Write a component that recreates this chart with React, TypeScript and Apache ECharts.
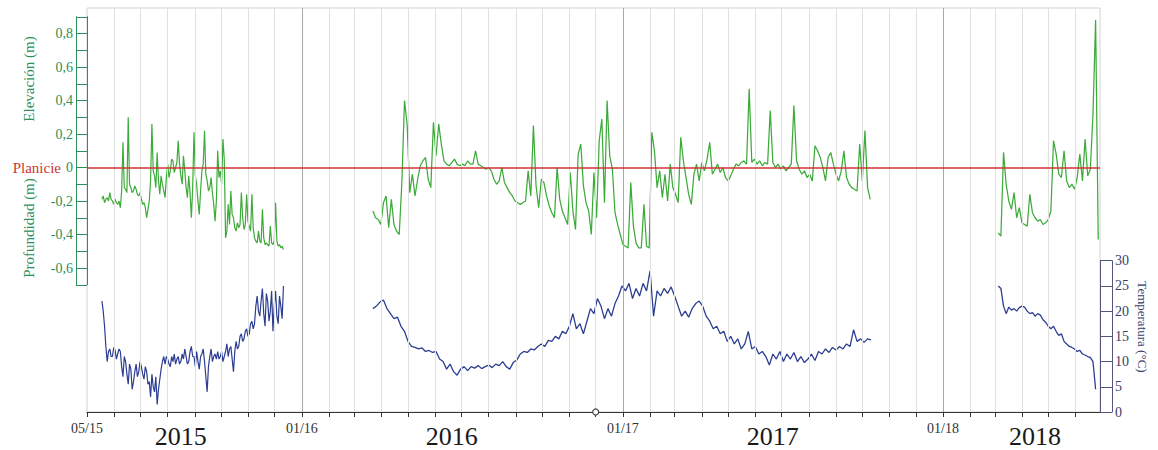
import React, { useEffect, useRef } from 'react';
import * as echarts from 'echarts';

const SERIF = '"Liberation Serif", "DejaVu Serif", serif';
const X_MIN = '2015-05-01';
const X_MAX = '2018-06-29';
const yearLines = ['2016-01-01', '2017-01-01', '2018-01-01'];
const xTickLabelDates = ['2015-05-01', '2016-01-01', '2017-01-01', '2018-01-01'];
const xTickLabels = ['05/15', '01/16', '01/17', '01/18'];
const markerDate = '2016-12-01';
const yearLabels = ['2015', '2016', '2017', '2018'];
const yearLabelDates = ['2015-08-16', '2016-06-20', '2017-06-21', '2018-04-16'];

// Elevation (m)
const elev2015Start = '2015-05-18'; // every 1.5 days
const elev2015 = [
  -0.19, -0.17, -0.21, -0.19, -0.18, -0.2, -0.15, -0.19, -0.2, -0.22,
  -0.19, -0.21, -0.22, -0.2, -0.24, -0.14, 0.15, -0.12, -0.13, -0.15,
  0.3, -0.1, -0.12, -0.15, -0.14, -0.11, -0.13, -0.16, -0.17, -0.15,
  -0.19, -0.22, -0.21, -0.24, -0.3, -0.25, -0.2, -0.08, 0.26, -0.02,
  -0.05, -0.12, 0.09, -0.08, -0.16, -0.05, -0.1, -0.14, -0.18, -0.06,
  0.02, -0.06, -0.02, 0.05, 0.04, -0.03, 0.0, 0.03, 0.16, 0.02,
  -0.05, -0.1, 0.07, -0.02, -0.12, -0.18, -0.05, -0.15, -0.3, -0.12,
  0.21, -0.05, -0.1, -0.2, -0.28, -0.14, -0.02, 0.02, 0.22, -0.04,
  -0.08, -0.14, -0.12, -0.06, -0.15, -0.22, -0.32, -0.2, 0.1, -0.06,
  -0.02, -0.1, 0.17, 0.05, -0.42, -0.38, -0.22, -0.34, -0.14, -0.28,
  -0.3, -0.36, -0.38, -0.33, -0.36, -0.34, -0.15, -0.3, -0.37, -0.34,
  -0.16, -0.32, -0.35, -0.38, -0.16, -0.36, -0.42, -0.44, -0.45, -0.38,
  -0.44, -0.45, -0.25, -0.42, -0.46, -0.45, -0.46, -0.47, -0.35, -0.45,
  -0.46, -0.44, -0.21, -0.44, -0.47, -0.46, -0.48, -0.47, -0.49,
];
const elev2016Start = '2016-03-22'; // every 3 days
const elev2016 = [
  -0.26, -0.3, -0.31, -0.34, -0.21, -0.17, -0.36, -0.19, -0.34, -0.38,
  -0.4, -0.09, 0.4, 0.26, -0.15, -0.04, -0.17, -0.07, 0.01, 0.04,
  0.06, -0.07, -0.12, 0.27, 0.07, 0.26, 0.14, 0.04, 0.02, 0.01,
  0.03, 0.05, 0.02, 0.01, 0.02, 0.01, 0.04, 0.02, 0.02, 0.1,
  0.02, 0.01, 0.0, -0.01, 0.0, -0.02, -0.07, -0.1, -0.08, 0.0,
  -0.09, -0.12, -0.15, -0.17, -0.2, -0.21, -0.22, -0.21, -0.2, -0.02,
  -0.17, 0.25, -0.11, -0.24, -0.07, -0.09, -0.17, -0.23, -0.27, -0.3,
  0.0, -0.19, -0.26, -0.3, -0.34, -0.03, -0.26, -0.37, 0.08, 0.14,
  -0.11, -0.21, -0.26, -0.4, -0.03, -0.3, 0.16, 0.29, -0.21, 0.4,
  0.07, -0.01, -0.27, -0.34, -0.4, -0.46, -0.47, -0.48, -0.09, -0.35,
  -0.45, -0.48, -0.48, -0.22, -0.47, -0.48, 0.21, 0.1, -0.12, -0.02,
  -0.18, -0.04, -0.2, 0.02, -0.12, -0.16, -0.21, 0.18, 0.04, -0.06,
  -0.16, -0.22, -0.04, 0.02, -0.08, 0.03, -0.02, 0.05, 0.15, -0.04,
  -0.01, 0.02, -0.03, 0.0, -0.06, -0.08, -0.05, -0.01, 0.02, 0.01,
  0.03, 0.04, 0.02, 0.47, 0.03, 0.05, 0.02, 0.04, 0.01, 0.03,
  0.02, 0.34, 0.03, 0.0, 0.02, -0.01, 0.01, -0.02, 0.0, 0.02,
  0.37, 0.04, -0.01, -0.04, -0.02, -0.06, -0.04, -0.08, 0.13, 0.1,
  0.06, 0.0, -0.08, 0.06, 0.09, 0.02, -0.04, -0.08, -0.02, 0.1,
  -0.06, -0.1, -0.12, -0.13, -0.14, 0.14, -0.08, 0.22, -0.12, -0.19,
];
const elev2018Start = '2018-03-05'; // every 3 days
const elev2018 = [
  -0.39, -0.41, 0.09, -0.1, -0.2, -0.25, -0.15, -0.3, -0.24, -0.33,
  -0.34, -0.35, -0.16, -0.27, -0.3, -0.32, -0.31, -0.34, -0.33, -0.31,
  -0.26, 0.16, 0.08, -0.04, -0.06, 0.1, -0.08, -0.12, -0.1, -0.13,
  -0.06, 0.08, -0.08, 0.17, -0.05, -0.01, 0.32, 0.88, -0.43,
];

// Temperature (°C)
const temp2015Start = '2015-05-18'; // every 1.5 days
const temp2015 = [
  22.0, 20.0, 17.0, 13.0, 10.0, 12.0, 12.5, 11.0, 11.0, 12.8,
  12.3, 10.5, 11.5, 12.5, 12.0, 9.0, 7.0, 11.0, 10.0, 7.5,
  5.5, 9.5, 8.5, 4.5, 6.0, 8.0, 9.5, 7.0, 8.0, 10.0,
  9.0, 7.5, 6.5, 9.0, 8.0, 5.5, 6.0, 3.0, 7.5, 5.0,
  4.0, 7.0, 1.5, 4.5, 6.5, 8.5, 10.0, 11.0, 9.5, 11.0,
  10.5, 9.5, 9.0, 11.0, 10.0, 11.5, 9.5, 10.5, 11.0, 9.5,
  10.0, 11.5, 10.5, 12.5, 11.0, 9.5, 10.0, 12.0, 13.0, 11.0,
  11.0, 9.0, 12.0, 10.0, 8.5, 11.0, 11.5, 12.5, 10.0, 7.0,
  4.0, 9.0, 11.0, 12.5, 10.0, 11.0, 11.5, 10.5, 12.0, 10.5,
  11.0, 12.0, 10.0, 11.0, 12.0, 13.5, 11.0, 12.5, 13.0, 10.5,
  8.0, 12.0, 14.0, 12.5, 13.0, 15.0, 15.5, 14.0, 14.5, 16.0,
  16.5, 15.0, 15.5, 17.5, 18.0, 16.5, 17.5, 21.0, 23.0, 20.0,
  19.0, 22.0, 24.5, 19.5, 17.0, 23.5, 22.0, 18.0, 20.0, 24.0,
  16.0, 21.0, 24.0, 19.0, 17.5, 23.0, 21.0, 18.5, 25.0,
];
const temp2016Start = '2016-03-22'; // every 4 days
const temp2016 = [
  20.5, 21.0, 21.8, 22.2, 20.5, 19.5, 18.5, 18.8, 17.0, 16.0,
  14.0, 13.0, 12.8, 12.5, 12.7, 12.0, 12.2, 11.8, 12.0, 10.5,
  10.0, 8.5, 9.5, 8.0, 7.3, 8.5, 9.0, 8.2, 9.0, 8.7,
  9.2, 8.6, 9.0, 9.3, 8.8, 9.5, 9.2, 10.0, 9.0, 8.5,
  9.8, 10.3, 11.5, 12.0, 11.8, 12.5, 12.3, 13.0, 13.5, 13.0,
  14.2, 14.0, 15.0, 14.5, 16.0, 15.5, 17.0, 19.5, 16.5, 17.5,
  15.5, 18.0, 20.5, 19.5, 22.5, 21.0, 18.5, 20.5, 19.0, 21.5,
  23.0, 25.0, 24.0, 25.5, 22.5, 24.5, 23.0, 25.5, 24.0, 28.0,
  19.0, 24.0, 23.0, 24.5, 23.5, 24.8, 23.0, 21.0, 19.0, 20.0,
  18.8, 20.5, 21.5, 22.0, 21.0, 19.0, 18.0, 16.5, 17.0, 15.5,
  16.0, 14.0, 15.0, 13.5, 14.5, 12.5, 13.5, 16.0, 12.5, 13.0,
  11.5, 12.0, 11.0, 9.3, 11.5, 10.5, 12.0, 10.0, 11.5, 10.5,
  11.8, 10.0, 11.0, 9.8, 10.5, 11.5, 10.2, 12.0, 11.5, 12.5,
  11.8, 12.8, 12.3, 13.0, 12.5, 13.5, 13.0, 16.3, 14.0, 14.5,
  13.8, 14.5, 14.3,
];
const temp2018Start = '2018-03-05'; // every 3 days
const temp2018 = [
  25.0, 24.5, 21.0, 19.5, 20.8, 20.2, 20.5, 20.0, 20.7, 21.0,
  20.8, 20.0, 19.5, 19.7, 19.0, 19.5, 19.2, 18.3, 17.8, 17.0,
  16.5, 17.0, 16.0, 15.2, 15.5, 14.0, 13.5, 13.0, 12.8, 12.5,
  12.0, 12.2, 11.5, 11.3, 11.0, 10.8, 10.0, 4.5,
];

const GREEN = '#3dab3a';
const BLUE = '#2c3e92';
const RED = '#cf3434';
const AXIS_GREEN = '#2e8f5a';
const TEMP_AXIS = '#55557f';
const TEMP_TEXT = '#3b3b68';
const DAY = 86400000;

function ts(s: string): number {
  const [y, m, d] = s.split('-').map(Number);
  return new Date(y, m - 1, d).getTime();
}
function build(start: string, stepDays: number, vals: number[]) {
  const t0 = ts(start);
  return vals.map((v, i) => [t0 + i * stepDays * DAY, v]);
}
function monthStarts(from: string, to: string): number[] {
  const [y, m] = from.split('-').map(Number);
  const end = ts(to);
  const out: number[] = [];
  for (let k = 0; ; k++) {
    const t = new Date(y, m - 1 + k, 1).getTime();
    if (t > end) break;
    out.push(t);
  }
  return out;
}

export default function App() {
  const ref = useRef<HTMLDivElement>(null);
  useEffect(() => {
    if (!ref.current) return;
    const chart = echarts.init(ref.current, undefined, { renderer: 'svg' });
    const xMin = ts(X_MIN);
    const xMax = ts(X_MAX);
    const months = monthStarts(X_MIN, X_MAX);
    const lineBase = {
      type: 'line',
      showSymbol: false,
      symbol: 'none',
      silent: true,
      animation: false,
    };
    const elevFmt = (v: number) => {
      const k = Math.round(v * 10);
      if (k % 2 !== 0) return '';
      if (k === 0) return '0';
      return (k / 10).toFixed(1).replace('.', ',');
    };
    const hiddenTime = (g: number) => ({ type: 'time', gridIndex: g, min: xMin, max: xMax, show: false });
    const option: any = {
      animation: false,
      backgroundColor: '#ffffff',
      textStyle: { fontFamily: SERIF },
      grid: [
        { left: 87, top: 8, width: 1013, height: 404, show: true, borderColor: '#d2d2d2', borderWidth: 1, backgroundColor: 'transparent' },
        { left: 87, top: 16.75, width: 1013, height: 268 },
        { left: 87, top: 260.7, width: 1013, height: 151.3 },
        { left: 87, top: 412, width: 1013, height: 5 },
      ],
      xAxis: [
        {
          type: 'time', gridIndex: 0, min: xMin, max: xMax,
          axisLine: { show: true, onZero: false, lineStyle: { color: '#333', width: 1.2 } },
          axisTick: { show: false },
          axisLabel: { show: false },
          splitLine: { show: false },
        },
        hiddenTime(1),
        hiddenTime(2),
        hiddenTime(3),
      ],
      yAxis: [
        { type: 'value', gridIndex: 0, min: 0, max: 1, show: false },
        {
          type: 'value', gridIndex: 1, min: -0.7, max: 0.9, interval: 0.1, position: 'left',
          axisLine: { show: true, onZero: false, lineStyle: { color: AXIS_GREEN, width: 1 } },
          axisTick: { show: true, length: 11, lineStyle: { color: AXIS_GREEN, width: 1 } },
          axisLabel: { show: true, margin: 14, fontSize: 14, fontFamily: SERIF, color: AXIS_GREEN, formatter: elevFmt },
          splitLine: { show: false },
        },
        {
          type: 'value', gridIndex: 1, min: -0.7, max: 0.9, interval: 0.1, position: 'left', offset: 11,
          axisLine: { show: true, onZero: false, lineStyle: { color: AXIS_GREEN, width: 1 } },
          axisTick: { show: false }, axisLabel: { show: false }, splitLine: { show: false },
        },
        {
          type: 'value', gridIndex: 2, min: 0, max: 30, interval: 5, position: 'right',
          axisLine: { show: true, onZero: false, lineStyle: { color: TEMP_AXIS, width: 1 } },
          axisTick: { show: true, length: 12, lineStyle: { color: TEMP_AXIS, width: 1 } },
          axisLabel: { show: true, margin: 15, fontSize: 14, fontFamily: SERIF, color: TEMP_TEXT },
          splitLine: { show: false },
        },
        {
          type: 'value', gridIndex: 2, min: 0, max: 30, interval: 5, position: 'right', offset: 12,
          axisLine: { show: true, onZero: false, lineStyle: { color: TEMP_AXIS, width: 1 } },
          axisTick: { show: false }, axisLabel: { show: false }, splitLine: { show: false },
        },
        { type: 'value', gridIndex: 3, min: 0, max: 1, show: false },
      ],
      series: [
        {
          ...lineBase, name: 'meses', xAxisIndex: 0, yAxisIndex: 0, data: [], z: 1,
          markLine: {
            silent: true, symbol: ['none', 'none'], label: { show: false },
            lineStyle: { color: '#e0e0e0', width: 1, type: 'solid' },
            data: months.slice(1).map((t) => ({ xAxis: t })),
          },
        },
        {
          ...lineBase, name: 'años', xAxisIndex: 0, yAxisIndex: 0, data: [], z: 1,
          markLine: {
            silent: true, symbol: ['none', 'none'], label: { show: false },
            lineStyle: { color: '#a8a8a8', width: 1, type: 'solid' },
            data: yearLines.map((d) => ({ xAxis: ts(d) })),
          },
          markPoint: {
            silent: true, symbol: 'circle', symbolSize: 6, label: { show: false },
            itemStyle: { color: '#ffffff', borderColor: '#444', borderWidth: 1.2 },
            data: [{ coord: [ts(markerDate), 0] }],
          },
        },
        {
          ...lineBase, name: 'ticks', xAxisIndex: 3, yAxisIndex: 5, data: [],
          markLine: {
            silent: true, symbol: ['none', 'none'], label: { show: false },
            lineStyle: { color: '#333', width: 1, type: 'solid' },
            data: months.map((t) => ({ xAxis: t })),
          },
        },
        { ...lineBase, name: 'Elevación 2015', xAxisIndex: 1, yAxisIndex: 1, data: build(elev2015Start, 1.5, elev2015), lineStyle: { color: GREEN, width: 1.2 } },
        { ...lineBase, name: 'Elevación 2016', xAxisIndex: 1, yAxisIndex: 1, data: build(elev2016Start, 3, elev2016), lineStyle: { color: GREEN, width: 1.25 } },
        { ...lineBase, name: 'Elevación 2018', xAxisIndex: 1, yAxisIndex: 1, data: build(elev2018Start, 3, elev2018), lineStyle: { color: GREEN, width: 1.25 } },
        {
          ...lineBase, name: 'Planicie', xAxisIndex: 1, yAxisIndex: 1, data: [],
          markLine: {
            silent: true, symbol: ['none', 'none'], label: { show: false },
            lineStyle: { color: RED, width: 1.6, type: 'solid' },
            data: [{ yAxis: 0 }],
          },
        },
        { ...lineBase, name: 'Temperatura 2015', xAxisIndex: 2, yAxisIndex: 3, data: build(temp2015Start, 1.5, temp2015), lineStyle: { color: BLUE, width: 1.2 } },
        { ...lineBase, name: 'Temperatura 2016', xAxisIndex: 2, yAxisIndex: 3, data: build(temp2016Start, 4, temp2016), lineStyle: { color: BLUE, width: 1.3 } },
        { ...lineBase, name: 'Temperatura 2018', xAxisIndex: 2, yAxisIndex: 3, data: build(temp2018Start, 3, temp2018), lineStyle: { color: BLUE, width: 1.3 } },
      ],
    };
    chart.setOption(option);

    const staticTexts: any[] = [
      { type: 'text', x: 29, y: 79, rotation: Math.PI / 2, style: { text: 'Elevación (m)', fill: AXIS_GREEN, font: `15px ${SERIF}`, align: 'center', verticalAlign: 'middle' } },
      { type: 'text', x: 29, y: 228, rotation: Math.PI / 2, style: { text: 'Profundidad (m)', fill: AXIS_GREEN, font: `15px ${SERIF}`, align: 'center', verticalAlign: 'middle' } },
      { type: 'text', x: 61, y: 168, style: { text: 'Planicie', fill: RED, font: `15px ${SERIF}`, align: 'right', verticalAlign: 'middle' } },
      { type: 'text', x: 1142, y: 327, rotation: -Math.PI / 2, style: { text: 'Temperatura (°C)', fill: TEMP_TEXT, font: `13px ${SERIF}`, align: 'center', verticalAlign: 'middle' } },
    ];
    const tickTexts = xTickLabels.map((t, i) => {
      const px = chart.convertToPixel({ xAxisIndex: 0 }, ts(xTickLabelDates[i])) as number;
      return { type: 'text', x: px, y: 428, style: { text: t, fill: '#333', font: `14px ${SERIF}`, align: 'center', verticalAlign: 'middle' } };
    });
    const yearTexts = yearLabels.map((t, i) => {
      const px = chart.convertToPixel({ xAxisIndex: 0 }, ts(yearLabelDates[i])) as number;
      return { type: 'text', x: px, y: 449.5, style: { text: t, fill: '#1a1a1a', font: `26px ${SERIF}`, align: 'center', verticalAlign: 'bottom' } };
    });
    chart.setOption({ graphic: [...staticTexts, ...tickTexts, ...yearTexts] });

    return () => chart.dispose();
  }, []);
  return <div ref={ref} style={{ position: 'fixed', left: 0, top: 0, width: 1158, height: 450 }} />;
}
